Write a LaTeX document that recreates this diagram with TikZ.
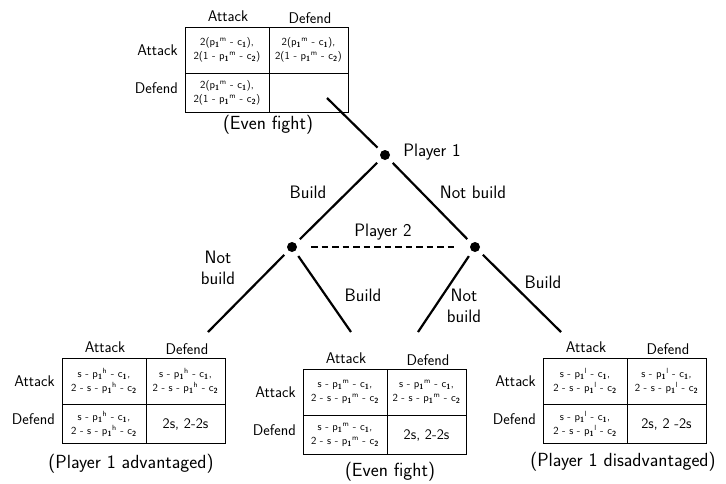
\documentclass[tikz,border=0pt]{standalone}
\begin{document}
\newcommand{\pp}[1]{p\textsubscript{\textbf{1}}\textsuperscript{#1}}
\newcommand{\cc}[1]{c\textsubscript{\textbf{#1}}}
\newcommand{\gametable}[8]{%
  % #1 name, #2 top-left corner, #3..#6 cells, #7 caption pos, #8 caption
  \begin{scope}[shift={#2}]
    \draw[gridline] (0,0) rectangle (163,85);
    \draw[gridline] (84,0) -- (84,85);
    \draw[gridline] (0,46) -- (163,46);
    \node[head] (#1ha) at (43,-11) {Attack};
    \node[head] (#1hd) at (125,-9) {Defend};
    \node[head,anchor=east] (#1ra) at (-7,23) {Attack};
    \node[head,anchor=east] (#1rd) at (-7,61) {Defend};
    \node[cell] (#1aa) at (42,23) {#3};
    \node[cell] (#1ad) at (123.5,23) {#4};
    \node[cell] (#1da) at (42,66) {#5};
    \node[cell] (#1dd) at (123.5,66) {#6};
    \node[capt] (#1cap) at #7 {#8};
  \end{scope}}
\begin{tikzpicture}[x=1pt,y=-1pt,
  dot/.style={circle,fill=black,inner sep=0pt,minimum size=10pt},
  branch/.style={line width=2.2pt},
  gridline/.style={line width=1pt},
  lbl/.style={font=\sffamily\fontsize{18}{21}\selectfont,align=center,inner sep=0pt},
  head/.style={font=\sffamily\fontsize{15.5}{17}\selectfont,inner sep=0pt},
  cell/.style={font=\sffamily\fontsize{10.7}{14}\selectfont,align=center,inner sep=0pt},
  capt/.style={font=\sffamily\fontsize{19}{21}\selectfont,inner sep=0pt}]
\useasboundingbox (0,0) rectangle (726,483);

% tables
\gametable{tt}{(185,27)}
  {2(\pp{m} - \cc{1}),\\2(1 - \pp{m} - \cc{2})}
  {2(\pp{m} - \cc{1}),\\2(1 - \pp{m} - \cc{2})}
  {2(\pp{m} - \cc{1}),\\2(1 - \pp{m} - \cc{2})}
  {}
  {(83,98)}{(Even fight)}
\gametable{tl}{(62,358)}
  {s - \pp{h} - \cc{1},\\2 - s - \pp{h} - \cc{2}}
  {s - \pp{h} - \cc{1},\\2 - s - \pp{h} - \cc{2}}
  {s - \pp{h} - \cc{1},\\2 - s - \pp{h} - \cc{2}}
  {\fontsize{14.5}{16}\selectfont 2s, 2-2s}
  {(69,106)}{(Player 1 advantaged)}
\gametable{tm}{(303,369)}
  {s - \pp{m} - \cc{1},\\2 - s - \pp{m} - \cc{2}}
  {s - \pp{m} - \cc{1},\\2 - s - \pp{m} - \cc{2}}
  {s - \pp{m} - \cc{1},\\2 - s - \pp{m} - \cc{2}}
  {\fontsize{14.5}{16}\selectfont 2s, 2-2s}
  {(87,103)}{(Even fight)}
\gametable{tr}{(543,358)}
  {s - \pp{l} - \cc{1},\\2 - s - \pp{l} - \cc{2}}
  {s - \pp{l} - \cc{1},\\2 - s - \pp{l} - \cc{2}}
  {s - \pp{l} - \cc{1},\\2 - s - \pp{l} - \cc{2}}
  {\fontsize{14.5}{16}\selectfont 2s, 2 -2s}
  {(80,104)}{(Player 1 disadvantaged)}

% tree
\node[dot] (p1) at (385,155) {};
\node[dot] (p2l) at (292,247) {};
\node[dot] (p2r) at (475,247) {};
\coordinate (top) at (327,98);
\coordinate (ll) at (208,332);
\coordinate (lr) at (351,332);
\coordinate (rl) at (418,332);
\coordinate (rr) at (561,332);

\draw[branch,shorten <=10.5pt] (p1.center) -- (top);
\draw[branch,shorten <=11pt,shorten >=11pt] (p1.center) -- (p2l.center);
\draw[branch,shorten <=11pt,shorten >=11pt] (p1.center) -- (p2r.center);
\draw[branch,shorten <=11pt] (p2l.center) -- (ll);
\draw[branch,shorten <=11pt] (p2l.center) -- (lr);
\draw[branch,shorten <=11pt] (p2r.center) -- (rl);
\draw[branch,shorten <=11pt] (p2r.center) -- (rr);
\draw[line width=2pt,dash pattern=on 6.5pt off 4pt,shorten <=19pt,shorten >=18pt] (p2l.center) -- (p2r.center);

\node[lbl] (lp1) at (432,152) {Player 1};
\node[lbl] (lp2) at (383,232) {Player 2};
\node[lbl] (lb1) at (308,192) {Build};
\node[lbl] (lnb1) at (473,192) {Not build};
\node[lbl] (lnbl) at (218,268) {Not\\build};
\node[lbl] (lbl2) at (363,295) {Build};
\node[lbl] (lnbr) at (464,306) {Not\\build};
\node[lbl] (lbr) at (543,282) {Build};
\end{tikzpicture}
\end{document}
